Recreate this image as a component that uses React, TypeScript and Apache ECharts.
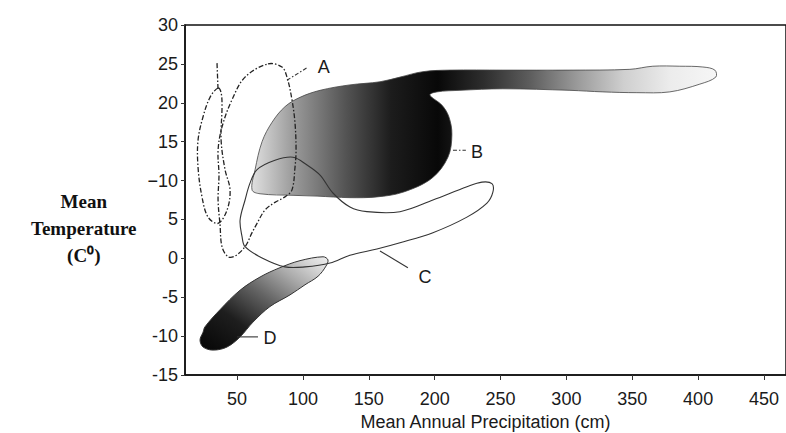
import React, { useEffect, useRef } from 'react';
import * as echarts from 'echarts';

// Axis ticks
const xTickValues = [50, 100, 150, 200, 250, 300, 350, 400, 450];
const yTickValues = [-15, -10, -5, 0, 5, 10, 15, 20, 25, 30];
const yTickLabels = ['-15', '-10', '-5', '0', '5', '−10', '15', '20', '25', '30'];

// Envelope A (dash-dot outlines): [precipitation cm, temperature °C]
const envelopeANarrow = [
  [35.6, 21.9], [29.5, 20.7], [24.2, 18.2], [20.4, 15.2], [20.4, 11.7], [23.4, 7.9],
  [28.0, 5.3], [35.6, 4.5], [42.4, 6.2], [44.7, 8.8], [40.9, 11.4], [37.9, 15.2],
  [38.6, 19.5], [37.9, 21.3],
];
const envelopeAStem = [[34.8, 25.1], [35.6, 21.6]];
const envelopeALarge = [
  [73.5, 25.0], [84.1, 24.6], [87.9, 23.3], [91.7, 20.4], [94.0, 17.4], [94.8, 13.9],
  [94.0, 11.7], [91.7, 8.8], [86.4, 7.9], [78.8, 7.2], [71.2, 6.2], [65.2, 4.5],
  [61.4, 3.3], [56.1, 1.5], [48.5, 0.3], [43.2, 0.2], [38.6, 1.5], [37.1, 4.3],
  [35.6, 7.5], [36.3, 10.7], [35.6, 13.9], [38.6, 16.9], [46.2, 20.4], [56.1, 23.3],
];

// Envelope B (shaded)
const envelopeB = [
  [61.4, 8.8], [63.7, 11.4], [69.0, 15.0], [76.6, 17.5], [86.4, 19.5], [97.8, 20.7],
  [113.0, 21.6], [135.7, 22.3], [158.5, 22.7], [173.7, 23.3], [191.1, 24.0], [211.6, 24.2],
  [251.8, 24.2], [302.7, 24.2], [348.2, 24.3], [365.6, 24.7], [386.1, 24.7], [403.6, 24.6],
  [412.7, 24.2], [413.4, 23.3], [401.3, 22.4], [378.5, 21.4], [353.5, 21.3], [327.7, 21.4],
  [302.7, 21.6], [251.8, 21.8], [219.2, 21.6], [201.7, 21.4], [196.4, 21.0], [205.5, 19.7],
  [210.8, 18.2], [213.1, 15.9], [210.1, 13.0], [197.9, 10.3], [175.9, 8.5], [156.2, 7.9],
  [135.7, 7.8], [110.7, 8.0], [92.5, 8.1], [67.5, 8.3],
];

// Envelope C (solid outline)
const envelopeC = [
  [92.5, 13.0], [103.1, 12.0], [113.0, 10.7], [122.8, 8.4], [135.7, 6.6], [148.6, 6.0],
  [173.7, 6.0], [198.7, 7.5], [224.5, 9.2], [235.9, 9.8], [243.5, 9.6], [244.2, 8.5],
  [239.7, 7.1], [224.5, 5.3], [198.7, 3.3], [173.7, 2.0], [156.2, 1.2], [135.7, 0.4],
  [120.6, -0.6], [101.6, -1.1], [86.4, -1.1], [69.0, 0.05], [56.1, 1.5], [53.8, 2.8],
  [52.3, 4.9], [56.1, 7.5], [59.9, 9.7], [65.2, 11.4], [78.8, 12.6],
];

// Envelope D (shaded)
const envelopeD = [
  [24.2, -9.5], [25.7, -8.8], [37.1, -6.6], [52.3, -4.1], [67.5, -2.4], [82.6, -1.2],
  [97.8, -0.3], [115.3, 0.2], [119.0, -0.2], [117.5, -1.0], [111.5, -2.3], [101.6, -3.4],
  [90.2, -4.7], [75.0, -6.2], [62.1, -8.2], [52.3, -10.1], [42.4, -11.4], [31.8, -11.8],
  [24.2, -11.4], [21.9, -10.5],
];

// Labels and leader lines
const labelNames = ['A', 'B', 'C', 'D'];
const labelPositions = [[115.8, 24.6], [232.1, 13.7], [192.6, -2.4], [75.0, -10.2]];
const leaderLines = [
  [[87.9, 22.9], [103.1, 24.5]],
  [[213.9, 13.9], [223.7, 13.9]],
  [[158.5, 0.95], [179.7, -1.2]],
  [[50.0, -10.1], [65.9, -10.1]],
];
const leaderDashed = [true, true, false, false];

const SANS = '"Liberation Sans", Arial, sans-serif';
const SERIF = '"Liberation Serif", "Times New Roman", serif';

function shapeSeries(name: string, pts: number[][], kind: 'polygon' | 'polyline', style: any, smooth: number, z: number) {
  return {
    type: 'custom',
    name,
    coordinateSystem: 'cartesian2d',
    silent: true,
    clip: false,
    z,
    encode: { x: 0, y: 1 },
    data: [pts[0]],
    renderItem: (_params: any, api: any) => ({
      type: kind,
      shape: { points: pts.map((p) => api.coord(p)), smooth },
      style,
    }),
  };
}

export default function App() {
  const ref = useRef<HTMLDivElement>(null);

  useEffect(() => {
    if (!ref.current) return;
    const chart = echarts.init(ref.current, undefined, { renderer: 'svg' });

    const gradB = new echarts.graphic.LinearGradient(0, 0, 1, 0, [
      { offset: 0, color: '#e0e0e0' },
      { offset: 0.09, color: '#9a9a9a' },
      { offset: 0.2, color: '#555555' },
      { offset: 0.3, color: '#1c1c1c' },
      { offset: 0.4, color: '#080808' },
      { offset: 0.5, color: '#2e2e2e' },
      { offset: 0.6, color: '#5e5e5e' },
      { offset: 0.7, color: '#9a9a9a' },
      { offset: 0.8, color: '#cfcfcf' },
      { offset: 0.9, color: '#ececec' },
      { offset: 1, color: '#f6f6f6' },
    ]);
    const gradD = new echarts.graphic.LinearGradient(0, 1, 1, 0, [
      { offset: 0, color: '#050505' },
      { offset: 0.3, color: '#1e1e1e' },
      { offset: 0.55, color: '#666666' },
      { offset: 0.75, color: '#aaaaaa' },
      { offset: 0.9, color: '#d8d8d8' },
      { offset: 1, color: '#eeeeee' },
    ]);

    const dashA = { stroke: '#222', lineWidth: 1.3, fill: 'none', lineDash: [5, 2, 1.5, 2] };

    const series: any[] = [
      shapeSeries('B', envelopeB, 'polygon', { fill: gradB, stroke: '#444', lineWidth: 0.8 }, 0.35, 1),
      shapeSeries('D', envelopeD, 'polygon', { fill: gradD, stroke: '#333', lineWidth: 1 }, 0.35, 1),
      shapeSeries('C', envelopeC, 'polygon', { fill: 'none', stroke: '#333', lineWidth: 1.1 }, 0.35, 2),
      shapeSeries('A1', envelopeANarrow, 'polygon', dashA, 0.35, 3),
      shapeSeries('A2', envelopeALarge, 'polygon', dashA, 0.35, 3),
      shapeSeries('A3', envelopeAStem, 'polyline', dashA, 0, 3),
    ];
    leaderLines.forEach((ln, i) => {
      series.push(
        shapeSeries('leader' + i, ln, 'polyline', {
          stroke: '#333', lineWidth: 1.1, fill: 'none', lineDash: leaderDashed[i] ? [4, 2, 1.5, 2] : null,
        }, 0, 4)
      );
    });
    series.push({
      type: 'custom',
      name: 'labels',
      coordinateSystem: 'cartesian2d',
      silent: true,
      clip: false,
      z: 5,
      encode: { x: 0, y: 1 },
      data: labelPositions,
      renderItem: (params: any, api: any) => {
        const p = api.coord(labelPositions[params.dataIndex]);
        return {
          type: 'text',
          style: {
            text: labelNames[params.dataIndex],
            x: p[0], y: p[1],
            align: 'center', verticalAlign: 'middle',
            textAlign: 'center', textVerticalAlign: 'middle',
            font: '18px ' + SANS, fill: '#1a1a1a',
          },
        };
      },
    });

    chart.setOption({
      animation: false,
      backgroundColor: '#ffffff',
      grid: {
        left: 185, top: 25, right: 0, bottom: 58,
        outerBoundsMode: 'none',
        containLabel: false,
        show: true, borderColor: '#111', borderWidth: 1.5, backgroundColor: 'transparent',
      },
      xAxis: {
        type: 'value',
        min: 10.5,
        max: 466.7,
        name: 'Mean Annual Precipitation (cm)',
        nameLocation: 'middle',
        nameGap: 38,
        nameTextStyle: { fontFamily: SANS, fontSize: 18, color: '#1a1a1a' },
        axisLine: { show: true, onZero: false, lineStyle: { color: '#111', width: 1.5 } },
        axisTick: { show: true, length: 5, customValues: xTickValues, lineStyle: { color: '#333' } },
        axisLabel: { customValues: xTickValues, fontFamily: SANS, fontSize: 18, color: '#1a1a1a', margin: 15 },
        splitLine: { show: false },
      },
      yAxis: {
        type: 'value',
        min: -15,
        max: 30,
        interval: 5,
        axisLine: { show: true, onZero: false, lineStyle: { color: '#111', width: 1.5 } },
        axisTick: { show: true, length: 4, lineStyle: { color: '#333' } },
        axisLabel: {
          fontFamily: SANS, fontSize: 18, color: '#1a1a1a', margin: 7,
          formatter: (v: number) => {
            const i = yTickValues.indexOf(v);
            return i >= 0 ? yTickLabels[i] : '';
          },
        },
        splitLine: { show: false },
      },
      graphic: [
        {
          type: 'text', left: 31, top: 188,
          style: {
            text: 'Mean\nTemperature\n(C⁰)',
            font: 'bold 19px ' + SERIF,
            fill: '#111',
            lineHeight: 27,
            align: 'center', textAlign: 'center',
          },
        },
      ],
      series,
    });

    return () => chart.dispose();
  }, []);

  return <div ref={ref} style={{ position: 'fixed', left: 0, top: 0, width: 786, height: 433, background: '#fff' }} />;
}
